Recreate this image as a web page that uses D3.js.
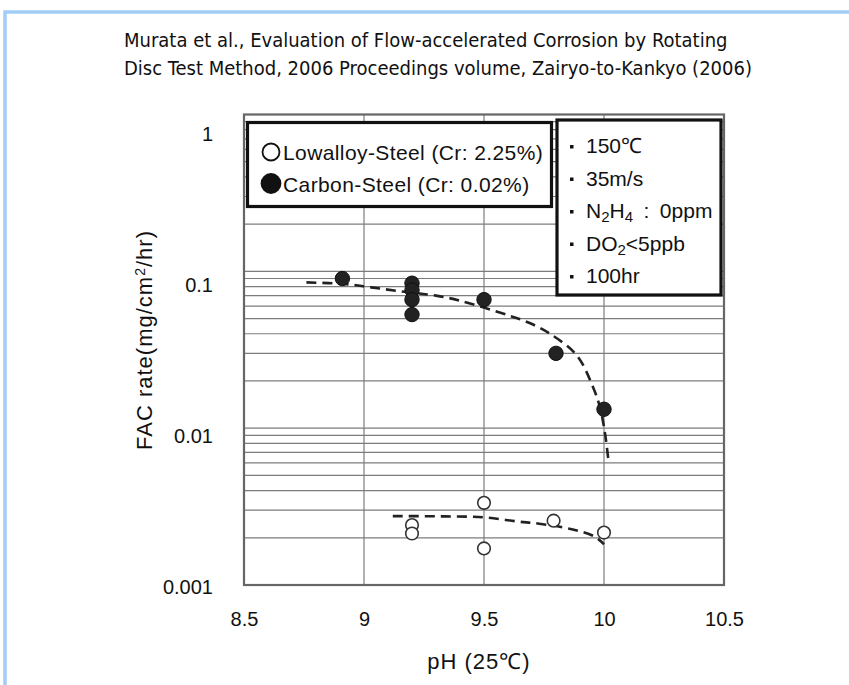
<!DOCTYPE html>
<html>
<head>
<meta charset="utf-8">
<script src="https://cdn.jsdelivr.net/npm/d3@7"></script>
<style>
  body { margin: 0; background: #fff; }
  svg { display: block; font-family: "Liberation Sans", Arial, sans-serif; }
  text { white-space: pre; }
</style>
</head>
<body>
<svg id="chart" width="849" height="685"></svg>
<script>
// --- data ---
const titleLines = [
  "Murata et al., Evaluation of Flow-accelerated Corrosion by Rotating",
  "Disc Test Method, 2006 Proceedings volume, Zairyo-to-Kankyo (2006)"
];
const xTicks = [8.5, 9, 9.5, 10, 10.5];
const yTicks = [0.001, 0.01, 0.1, 1];
const yTickLabels = ["0.001", "0.01", "0.1", "1"];

// carbon steel (filled)
const carbonPH   = [8.91, 9.2, 9.2, 9.2, 9.2, 9.5, 9.8, 10.0];
const carbonRate = [0.090, 0.084, 0.076, 0.066, 0.053, 0.066, 0.030, 0.0132];
// low alloy steel (open)
const lowPH   = [9.2, 9.2, 9.5, 9.5, 9.79, 10.0];
const lowRate = [0.00241, 0.00213, 0.00334, 0.00171, 0.00257, 0.00216];

// dashed trend lines
const carbonFitPH   = [8.76, 8.92, 9.03, 9.14, 9.30, 9.40, 9.60, 9.69, 9.775, 9.8875, 9.954, 9.983, 10.004, 10.018];
const carbonFitRate = [0.085, 0.083, 0.079, 0.075, 0.070, 0.065, 0.0525, 0.0468, 0.0400, 0.0290, 0.0183, 0.0136, 0.0093, 0.0063];
const lowFitPH   = [9.12, 9.32, 9.50, 9.64, 9.73, 9.87, 9.96, 10.0];
const lowFitRate = [0.00275, 0.00274, 0.00270, 0.00254, 0.00246, 0.00226, 0.00204, 0.00182];

const legendItems = ["Lowalloy-Steel (Cr: 2.25%)", "Carbon-Steel (Cr: 0.02%)"];

// conditions box rows: [text, isSubscript]
const infoRows = [
  [["150℃"]],
  [["35m/s"]],
  [["N"], ["2", true], ["H"], ["4", true], ["\u2002:\u20020ppm"]],
  [["DO"], ["2", true], ["<5ppb"]],
  [["100hr"]]
];

const svg = d3.select("#chart");
svg.append("rect").attr("width", 849).attr("height", 685).attr("fill", "#fff");

// light blue page border
svg.append("path")
  .attr("d", "M5,685V12H849")
  .attr("fill", "none")
  .attr("stroke", "#a3cdf7")
  .attr("stroke-width", 3.5);

// title
svg.append("g")
  .attr("font-family", "'Liberation Sans Narrow', 'DejaVu Sans Condensed', sans-serif")
  .attr("font-size", 20)
  .attr("fill", "#111")
  .selectAll("text")
  .data(titleLines)
  .join("text")
  .attr("x", 124)
  .attr("y", (d, i) => 47 + i * 28)
  .text(d => d);

const plot = {left: 244, right: 724, top: 114.5, bottom: 585};

const x = d3.scaleLinear().domain([8.5, 10.5]).range([plot.left, plot.right]);
const y = d3.scaleLog().domain([0.001, 1]).range([plot.bottom, plot.top]);
// tick labels sit a little off the grid in the scanned original
const yLab = d3.scaleLog().domain([0.001, 1]).range([586, 133]);

// grid
const grid = svg.append("g").attr("stroke", "#7c7c7c").attr("stroke-width", 1.2);
grid.selectAll(".h")
  .data(y.ticks())
  .join("line")
  .attr("x1", plot.left).attr("x2", plot.right)
  .attr("y1", d => y(d)).attr("y2", d => y(d));
grid.selectAll(".v")
  .data(xTicks.slice(1, -1))
  .join("line")
  .attr("y1", plot.top).attr("y2", plot.bottom)
  .attr("x1", d => x(d)).attr("x2", d => x(d));

// frame
svg.append("rect")
  .attr("x", plot.left).attr("y", plot.top)
  .attr("width", plot.right - plot.left).attr("height", plot.bottom - plot.top)
  .attr("fill", "none").attr("stroke", "#666").attr("stroke-width", 2.2);

// axes (labels only)
const xAxis = svg.append("g")
  .attr("transform", `translate(0,${plot.bottom + 24})`)
  .call(d3.axisBottom(x).tickValues(xTicks).tickSize(0).tickFormat(d3.format("")));
xAxis.select(".domain").remove();
xAxis.selectAll("text").attr("font-size", 20).attr("fill", "#111")
  .attr("font-family", "'Liberation Sans', Arial, sans-serif");

const yAxis = svg.append("g")
  .attr("transform", `translate(${plot.left - 28},0)`)
  .call(d3.axisLeft(yLab).tickValues(yTicks).tickSize(0).tickFormat((d, i) => yTickLabels[i]));
yAxis.select(".domain").remove();
yAxis.selectAll("text").attr("font-size", 20).attr("fill", "#111").attr("dy", "0.35em")
  .attr("font-family", "'Liberation Sans', Arial, sans-serif");

// axis titles
svg.append("text")
  .attr("x", 479).attr("y", 669)
  .attr("text-anchor", "middle")
  .attr("font-size", 22).attr("letter-spacing", 1).attr("fill", "#111")
  .text("pH (25℃)");

const yTitle = svg.append("text")
  .attr("transform", "translate(152,340) rotate(-90)")
  .attr("text-anchor", "middle")
  .attr("font-size", 22).attr("letter-spacing", 1).attr("fill", "#111");
yTitle.append("tspan").text("FAC rate(mg/cm");
yTitle.append("tspan").attr("font-size", 14).attr("dy", -7).text("2");
yTitle.append("tspan").attr("dy", 7).text("/hr)");

// dashed curves
const line = d3.line()
  .x(d => x(d[0])).y(d => y(d[1]))
  .curve(d3.curveCatmullRom.alpha(0.5));

svg.append("path")
  .datum(d3.zip(carbonFitPH, carbonFitRate))
  .attr("d", line)
  .attr("fill", "none").attr("stroke", "#222")
  .attr("stroke-width", 2.6).attr("stroke-dasharray", "10,6");

svg.append("path")
  .datum(d3.zip(lowFitPH, lowFitRate))
  .attr("d", line)
  .attr("fill", "none").attr("stroke", "#222")
  .attr("stroke-width", 2.6).attr("stroke-dasharray", "10,6");

// points
svg.append("g").selectAll("circle")
  .data(d3.zip(carbonPH, carbonRate))
  .join("circle")
  .attr("cx", d => x(d[0])).attr("cy", d => y(d[1]))
  .attr("r", 7.2)
  .attr("fill", "#222").attr("stroke", "#111").attr("stroke-width", 1);

svg.append("g").selectAll("circle")
  .data(d3.zip(lowPH, lowRate))
  .join("circle")
  .attr("cx", d => x(d[0])).attr("cy", d => y(d[1]))
  .attr("r", 6.3)
  .attr("fill", "#fff").attr("stroke", "#333").attr("stroke-width", 1.6);

// legend box
const leg = svg.append("g");
leg.append("rect")
  .attr("x", 247.5).attr("y", 122.5).attr("width", 304).attr("height", 84)
  .attr("fill", "#fff").attr("stroke", "#111").attr("stroke-width", 3.2);
leg.selectAll("circle")
  .data(legendItems)
  .join("circle")
  .attr("cx", 271).attr("cy", (d, i) => 152 + i * 31.5)
  .attr("r", (d, i) => i ? 9.5 : 8.5)
  .attr("fill", (d, i) => i ? "#111" : "#fff")
  .attr("stroke", "#111").attr("stroke-width", 1.8);
leg.selectAll("text")
  .data(legendItems)
  .join("text")
  .attr("x", 283).attr("y", (d, i) => 160 + i * 31.5)
  .attr("font-size", 21).attr("letter-spacing", 0.4).attr("fill", "#111")
  .text(d => d);

// conditions box
const info = svg.append("g");
info.append("rect")
  .attr("x", 557).attr("y", 120).attr("width", 164).attr("height", 175)
  .attr("fill", "#fff").attr("stroke", "#111").attr("stroke-width", 3.2);

infoRows.forEach((row, i) => {
  const yy = 153 + i * 32.5;
  info.append("rect")
    .attr("x", 570).attr("y", yy - 8).attr("width", 3.5).attr("height", 3.5).attr("fill", "#111");
  const t = info.append("text")
    .attr("x", 586).attr("y", yy)
    .attr("font-size", 21).attr("fill", "#111");
  let prevSub = false;
  row.forEach(([s, sub]) => {
    const sp = t.append("tspan").text(s);
    if (sub) sp.attr("font-size", 15).attr("dy", prevSub ? 0 : 4);
    else if (prevSub) sp.attr("dy", -4);
    prevSub = !!sub;
  });
});
</script>
</body>
</html>
